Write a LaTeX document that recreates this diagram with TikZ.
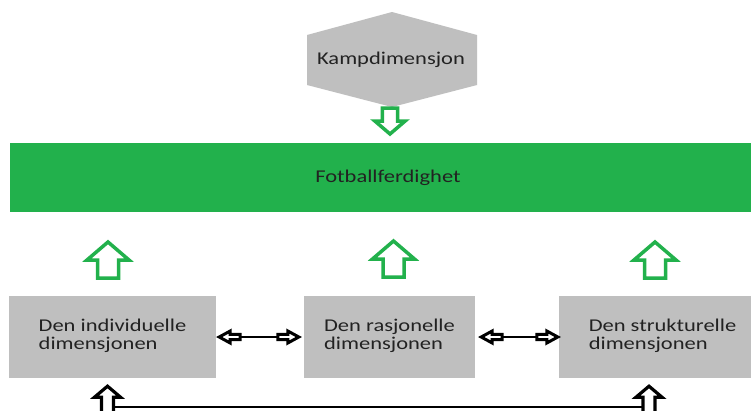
\documentclass[tikz,border=0pt]{standalone}
\usepackage{graphicx}
\usepackage{fontspec}
\setmainfont{Carlito}
\usetikzlibrary{calc}
\definecolor{fgreen}{HTML}{22B14C}
\definecolor{bgray}{HTML}{BFBFBF}
\definecolor{ink}{HTML}{222222}
\newcommand{\wx}[1]{\scalebox{1.25}[1]{#1}}
\newcommand{\wtwo}[2]{\scalebox{1.25}[1]{\begin{tabular}{@{}l@{}}#1\\#2\end{tabular}}}
\begin{document}
\begin{tikzpicture}[x=1pt,y=-1pt,
  lbl/.style={font=\fontsize{18}{17.5}\selectfont, text=ink, inner sep=0pt},
  dimbox/.style={lbl, fill=bgray, minimum height=82pt},
  bar/.style={lbl, fill=fgreen, minimum height=69pt, minimum width=756pt},
  garrow/.pic={\draw[fgreen, line width=3.5pt, fill=white, line join=miter]
     (0,0) -- (21,18) -- (10.5,18) -- (10.5,36) -- (-10.5,36) -- (-10.5,18) -- (-21,18) -- cycle;},
  bhead/.pic={\draw[black, line width=3pt, fill=white, line join=miter]
     (0,0) -- (11,-6) -- (11,-2.6) -- (21,-2.6) -- (21,2.6) -- (11,2.6) -- (11,6) -- cycle;},
  bup/.pic={\draw[black, line width=3.2pt, fill=white, line join=miter]
     (0,0) -- (13,11) -- (6,11) -- (6,30) -- (-6,30) -- (-6,11) -- (-13,11) -- cycle;},
  blink/.style={black, line width=2.2pt}
]
\useasboundingbox (0,0) rectangle (751,410);
\fill[white] (0,0) rectangle (751,410);

% hexagon
\fill[bgray] (392,12) -- (477,35) -- (477,85) -- (392,107) -- (307,85) -- (307,35) -- cycle;
\node[lbl] (kamp) at (391,60) {\wx{Kampdimensjon}};

% green bar
\node[bar] (fot) at (388,177.5) {\wx{Fotballferdighet}};

% boxes
\node[dimbox, minimum width=207pt] (b1) at (112.5,337) {\wtwo{Den individuelle}{dimensjonen}};
\node[dimbox, minimum width=171pt] (b2) at (389.5,337) {\wtwo{Den rasjonelle}{dimensjonen}};
\node[dimbox, minimum width=207pt] (b3) at (662.5,337) {\wtwo{Den strukturelle}{dimensjonen}};

% green block arrows
\pic[rotate=180, scale=0.72] at ($(kamp)+(-1,74)$) {garrow};
\pic at (108,242) {garrow};
\pic at (393.5,241) {garrow};
\pic at (655,242) {garrow};

% horizontal double arrows
\coordinate (l1) at ($(b1.east)+(3,0)$);
\coordinate (r1) at ($(b2.west)+(-5,0)$);
\coordinate (l2) at ($(b2.east)+(6,0)$);
\coordinate (r2) at ($(b3.west)+(-1,0)$);
\draw[blink] (l1) -- (r1);
\draw[blink] (l2) -- (r2);
\pic at (l1) {bhead};
\pic[rotate=180] at (r1) {bhead};
\pic at (l2) {bhead};
\pic[rotate=180] at (r2) {bhead};

% bottom connector
\coordinate (lu) at ($(b1.south)+(-5,8)$);
\coordinate (ru) at ($(b3.south)+(-13.5,8)$);
\draw[blink] ($(lu)+(0,21)$) -- ($(ru)+(0,21)$);
\pic at (lu) {bup};
\pic at (ru) {bup};
\end{tikzpicture}
\end{document}
